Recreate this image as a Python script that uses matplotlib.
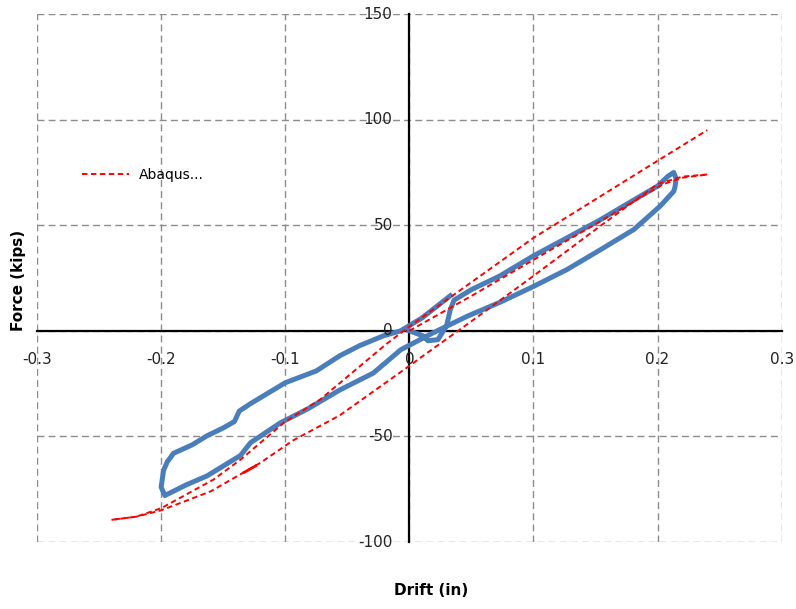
import numpy as np
import matplotlib.pyplot as plt

plt.rcParams['axes.unicode_minus'] = False

# test data (blue loop)
test_x = [0.0, 0.011, 0.015, 0.023, 0.030, 0.033, 0.036, 0.050, 0.073, 0.100, 0.127,
          0.154, 0.181, 0.200, 0.208, 0.213, 0.215, 0.214, 0.213, 0.202, 0.181, 0.154,
          0.127, 0.100, 0.073, 0.047, 0.019, -0.007, -0.029, -0.056, -0.082, -0.104,
          -0.128, -0.136, -0.163, -0.180, -0.197, -0.200, -0.198, -0.195, -0.190,
          -0.175, -0.163, -0.150, -0.141, -0.137, -0.128, -0.100, -0.075, -0.056,
          -0.040, -0.021, -0.007, 0.010, 0.033]
test_y = [0.0, -2.4, -4.7, -4.2, 2.4, 10.0, 14.5, 19.5, 26.0, 35.5, 44.0,
          52.6, 62.0, 68.5, 73.0, 75.0, 72.0, 68.0, 66.0, 59.0, 48.0, 38.4,
          29.0, 21.0, 13.5, 7.0, -1.0, -9.0, -20.0, -28.0, -37.0, -43.6,
          -53.0, -59.0, -68.7, -73.0, -78.0, -74.0, -66.0, -62.0, -58.0,
          -54.0, -49.7, -46.0, -43.0, -38.0, -34.5, -24.6, -19.0, -11.8,
          -7.0, -2.4, 0.0, 6.0, 16.6]

# Abaqus branches
abq_load_x = [0.0, 0.05, 0.10, 0.15, 0.19, 0.205, 0.22, 0.24]
abq_load_y = [0.0, 16.5, 33.6, 50.5, 64.5, 69.5, 72.5, 74.0]

abq_unload_x = [0.24, 0.22, 0.20, 0.154, 0.10, 0.05, 0.0145, 0.0, -0.056, -0.094,
                -0.12, -0.16, -0.20, -0.22, -0.24]
abq_unload_y = [74.0, 73.0, 69.5, 49.7, 26.0, 4.5, -10.4, -16.6, -40.0, -52.0,
                -62.5, -76.0, -85.0, -88.0, -89.5]

abq_reload_x = [-0.24, -0.22, -0.20, -0.158, -0.136, -0.10, -0.072, -0.018, 0.0,
                0.10, 0.20, 0.24]
abq_reload_y = [-89.5, -88.0, -84.0, -70.5, -61.0, -43.0, -32.6, -6.0, 2.0,
                44.0, 80.5, 95.0]

abq_blob_x = [-0.133, -0.124]
abq_blob_y = [-67.0, -64.0]

xticks = [-0.3, -0.2, -0.1, 0.0, 0.1, 0.2, 0.3]
xtick_labels = ['-0.3', '-0.2', '-0.1', '0', '0.1', '0.2', '0.3']
yticks = [-100, -50, 0, 50, 100, 150]
ytick_labels = ['-100', '-50', '0', '50', '100', '150']

fig = plt.figure(figsize=(7.96, 6.09), dpi=100)
ax = fig.add_axes([0.0465, 0.11, 0.9355, 0.867])

red = '#ff0000'
dash = (2.8, 1.8)
ax.plot(test_x, test_y, color='#4a7ebb', lw=3.6, solid_joinstyle='round', zorder=3)
ax.plot(abq_load_x, abq_load_y, color=red, lw=1.4, dashes=dash, zorder=4, label='Abaqus...')
ax.plot(abq_unload_x, abq_unload_y, color=red, lw=1.4, dashes=dash, zorder=4)
ax.plot(abq_reload_x, abq_reload_y, color=red, lw=1.4, dashes=dash, zorder=4)
ax.plot(abq_blob_x, abq_blob_y, color=red, lw=2.0, zorder=4)

ax.set_xlim(-0.3, 0.3)
ax.set_ylim(-100, 150)
ax.set_xticks(xticks)
ax.set_yticks(yticks)
ax.set_xticklabels([])
ax.set_yticklabels([])
ax.grid(True, color='#8c8c8c', lw=1.0, dashes=(5, 3))
ax.set_axisbelow(True)
for gl in ax.get_xgridlines() + ax.get_ygridlines():
    gl.set_clip_on(False)

ax.spines['left'].set_position(('data', 0))
ax.spines['bottom'].set_position(('data', 0))
ax.spines['top'].set_visible(False)
ax.spines['right'].set_visible(False)
for s in ['left', 'bottom']:
    ax.spines[s].set_linewidth(1.6)
    ax.spines[s].set_color('black')
    ax.spines[s].set_zorder(2)
ax.tick_params(length=0)

# tick labels next to the zero axes
for x, lab in zip(xticks, xtick_labels):
    ax.annotate(lab, (x, 0), xytext=(0, -21), textcoords='offset points',
                ha='center', va='center', fontsize=11, color='#222222',
                annotation_clip=False)
for y, lab in zip(yticks, ytick_labels):
    ax.annotate(lab, (0, y), xytext=(-12, 0), textcoords='offset points',
                ha='right', va='center', fontsize=11, color='#222222',
                annotation_clip=False)

fig.text(0.023, 0.54, 'Force (kips)', rotation=90, fontsize=11, fontweight='bold',
         ha='center', va='center')
fig.text(0.541, 0.03, 'Drift (in)', fontsize=11, fontweight='bold',
         ha='center', va='center')

ax.legend(loc='center left', bbox_to_anchor=(0.06, 0.695), frameon=False,
          borderpad=0, borderaxespad=0, handlelength=3.4, handletextpad=0.7,
          fontsize=10)

fig.savefig('out.png', dpi=100)
